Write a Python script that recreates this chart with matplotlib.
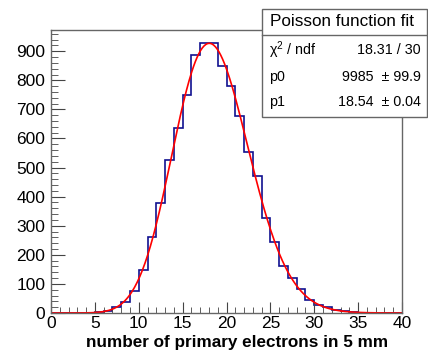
import math
import numpy as np
import matplotlib
matplotlib.use("Agg")
import matplotlib.pyplot as plt
from matplotlib.patches import Rectangle
from matplotlib.ticker import MultipleLocator

plt.rcParams['font.family'] = ['Liberation Sans', 'DejaVu Sans']
plt.rcParams['mathtext.fontset'] = 'custom'
plt.rcParams['mathtext.rm'] = 'Liberation Sans'
plt.rcParams['mathtext.it'] = 'Liberation Sans:italic'

# histogram: bins of width 1 from 0 to 40
bin_edges = np.arange(0, 41, 1)
counts = [0, 0, 0, 0, 0, 2, 7, 22, 38, 76,
          147, 262, 377, 527, 636, 751, 886, 927, 927, 849,
          782, 679, 552, 470, 328, 245, 161, 122, 82, 44,
          28, 20, 11, 6, 3, 1, 1, 0, 0, 0]

# fit results
p0 = 9985
p1 = 18.54
box_title = "Poisson function fit"
box_rows = [("\u03c7$^{\\mathrm{2}}$ / ndf", "18.31 / 30"),
            ("p0", "9985  \u00b1 99.9"),
            ("p1", "18.54  \u00b1 0.04")]

W, H = 428, 355


def px(x, y):
    # pixel coords (from top-left) -> figure fraction
    return x / W, 1 - y / H


def poisson(x, mu):
    return np.array([math.exp(v * math.log(mu) - mu - math.lgamma(v + 1)) for v in x])


fig = plt.figure(figsize=(W / 100, H / 100), dpi=100)
l, b = px(51, 313)
r, t = px(402, 30)
ax = fig.add_axes([l, b, r - l, t - b])

ax.stairs(counts, bin_edges, color='#101090', lw=1.2)
xs = np.linspace(0, 40, 400)
ax.plot(xs, p0 * poisson(xs, p1), color='red', lw=1.2)

ax.set_xlim(0, 40)
ax.set_ylim(0, 973)
ax.xaxis.set_major_locator(MultipleLocator(5))
ax.xaxis.set_minor_locator(MultipleLocator(1))
ax.yaxis.set_major_locator(MultipleLocator(100))
ax.yaxis.set_minor_locator(MultipleLocator(20))
ax.tick_params(which='both', direction='in', color='#444444', labelsize=12.5)
ax.tick_params(axis='x', which='major', length=8, pad=2)
ax.tick_params(axis='x', which='minor', length=4)
ax.tick_params(axis='y', which='major', length=10, pad=4)
ax.tick_params(axis='y', which='minor', length=5)
for s in ax.spines.values():
    s.set_color('#666666')
    s.set_linewidth(1.0)

x0, y0 = px(237, 342)
fig.text(x0, y0, "number of primary electrons in 5 mm", ha='center', va='center',
         fontsize=12.3, fontweight='bold')

# stats box
bx0, by0 = px(262, 117)
bx1, by1 = px(427, 9)
fig.patches.append(Rectangle((bx0, by0), bx1 - bx0, by1 - by0, transform=fig.transFigure,
                             facecolor='white', edgecolor='#666666', lw=1.0, zorder=5))
dx, dy = px(262, 35)
fig.lines.append(plt.Line2D([bx0, bx1], [dy, dy], transform=fig.transFigure,
                            color='#666666', lw=1.0, zorder=6))
tx, ty = px(270, 22)
fig.text(tx, ty, box_title, ha='left', va='center', fontsize=12.3, zorder=7)
row_y = [50, 77, 102]
for (name, val), yy in zip(box_rows, row_y):
    lx, ly = px(269, yy)
    vx, _ = px(421, yy)
    fig.text(lx, ly, name, ha='left', va='center', fontsize=10.3, zorder=7)
    fig.text(vx, ly, val, ha='right', va='center', fontsize=10.3, zorder=7)

fig.savefig("out.png", dpi=100)
